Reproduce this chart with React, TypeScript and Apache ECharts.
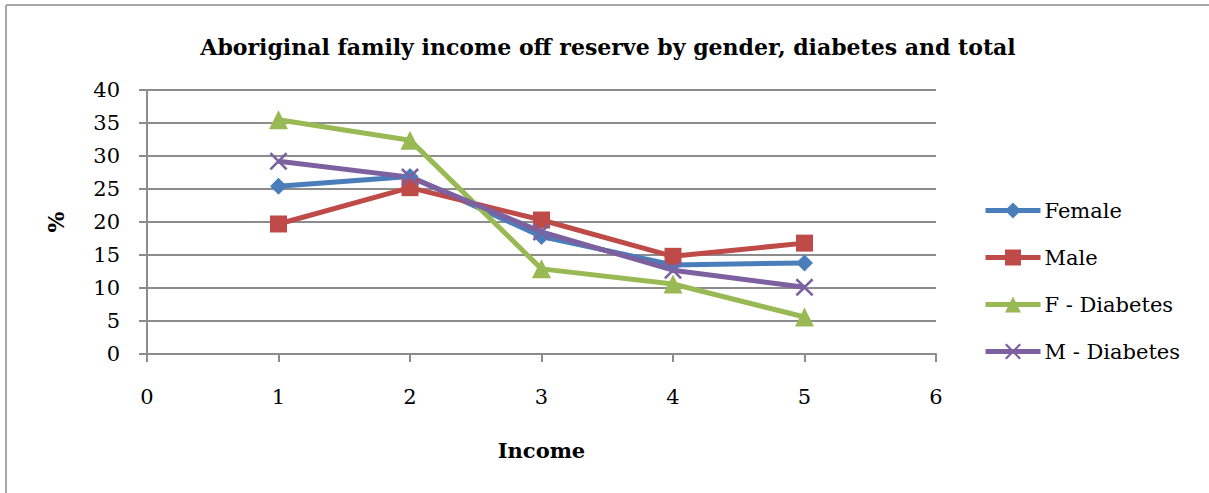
import React, { useEffect, useRef } from "react";
import * as echarts from "echarts";

const incomeLevels = [1, 2, 3, 4, 5];
const femaleValues = [25.4, 26.9, 17.8, 13.5, 13.8];
const maleValues = [19.7, 25.2, 20.3, 14.8, 16.8];
const fDiabetesValues = [35.5, 32.4, 12.9, 10.6, 5.6];
const mDiabetesValues = [29.2, 26.8, 18.5, 12.7, 10.1];
const seriesNames = ["Female", "Male", "F - Diabetes", "M - Diabetes"];

const FONT = "DejaVu Serif";
const crossPath =
  "path://M0,1L1,0L5,4L9,0L10,1L6,5L10,9L9,10L5,6L1,10L0,9L4,5Z";

export default function App() {
  const ref = useRef<HTMLDivElement>(null);
  useEffect(() => {
    const chart = echarts.init(ref.current!, undefined, { renderer: "svg" });
    const pair = (vals: number[]) => incomeLevels.map((x, i) => [x, vals[i]]);
    const mk = (name: string, vals: number[], color: string, symbol: string, size: number) => ({
      name,
      type: "line",
      data: pair(vals),
      symbol,
      symbolSize: size,
      lineStyle: { color, width: 5 },
      itemStyle: { color },
      z: 2,
    });
    chart.setOption({
      animation: false,
      backgroundColor: "#ffffff",
      title: {
        text: "Aboriginal family income off reserve by gender, diabetes and total",
        left: 603,
        textAlign: "center",
        top: 31,
        textStyle: { fontFamily: FONT, fontWeight: "bold", fontSize: 22, color: "#000" },
      },
      graphic: [
        { type: "line", shape: { x1: 6, y1: 5, x2: 1209, y2: 5 }, style: { stroke: "#a6a6a6", lineWidth: 2 } },
        { type: "line", shape: { x1: 6, y1: 5, x2: 6, y2: 493 }, style: { stroke: "#a6a6a6", lineWidth: 2 } },
      ],
      grid: { left: 147, right: 273, top: 90, bottom: 139 },
      legend: {
        orient: "vertical",
        left: 983,
        top: 200,
        padding: 0,
        itemWidth: 55,
        itemHeight: 20,
        itemGap: 26,
        data: seriesNames,
        lineStyle: { width: 5 },
        textStyle: { fontFamily: FONT, fontSize: 21, lineHeight: 20, color: "#000", padding: [0, 0, 0, -1] },
      },
      xAxis: {
        type: "value",
        min: 0,
        max: 6,
        interval: 1,
        name: "Income",
        nameLocation: "middle",
        nameGap: 86,
        nameTextStyle: { fontFamily: FONT, fontWeight: "bold", fontSize: 21, color: "#000" },
        axisLine: { show: true, lineStyle: { color: "#8c8c8c", width: 2 } },
        axisTick: { show: true, length: 8, lineStyle: { color: "#8c8c8c", width: 2 } },
        axisLabel: { fontFamily: FONT, fontSize: 21, color: "#000", margin: 32 },
        splitLine: { show: false },
      },
      yAxis: {
        type: "value",
        min: 0,
        max: 40,
        interval: 5,
        name: "%",
        nameLocation: "middle",
        nameGap: 80,
        nameRotate: 90,
        nameTextStyle: { fontFamily: FONT, fontWeight: "bold", fontSize: 22, color: "#000" },
        axisLine: { show: true, lineStyle: { color: "#8c8c8c", width: 2 } },
        axisTick: { show: true, length: 8, lineStyle: { color: "#8c8c8c", width: 2 } },
        axisLabel: { fontFamily: FONT, fontSize: 21, color: "#000", margin: 27 },
        splitLine: { show: true, lineStyle: { color: "#8c8c8c", width: 2 } },
      },
      series: [
        mk("Female", femaleValues, "#4a7ebb", "diamond", 17),
        mk("Male", maleValues, "#be4b48", "rect", 17),
        mk("F - Diabetes", fDiabetesValues, "#98b954", "triangle", 19),
        mk("M - Diabetes", mDiabetesValues, "#7d60a0", crossPath, 18),
      ],
    });
    return () => chart.dispose();
  }, []);
  return <div ref={ref} style={{ width: 1209, height: 493, position: "absolute", left: 0, top: 0 }} />;
}
